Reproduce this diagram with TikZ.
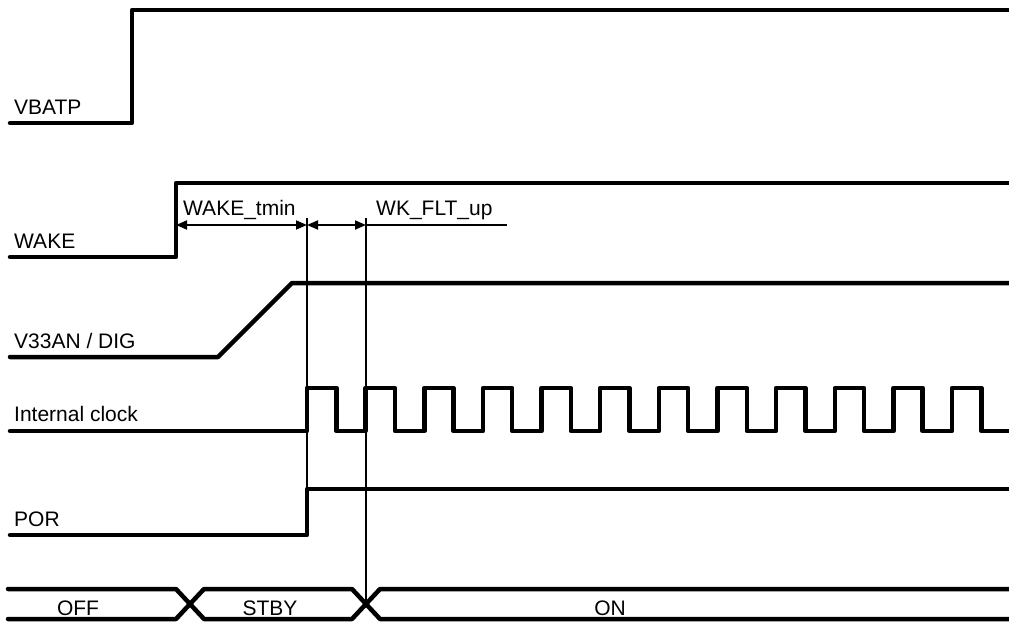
\documentclass[tikz,border=0pt]{standalone}
\usepackage{fontspec}
\setmainfont{Liberation Sans}
\usetikzlibrary{arrows.meta}
\begin{document}
\begin{tikzpicture}[x=1pt,y=-1pt,
  sig/.style={line width=4.5pt,line cap=round,line join=round},
  thin/.style={line width=1.3pt},
  dim/.style={line width=1.8pt,{Triangle[length=11pt,width=9pt]}-{Triangle[length=11pt,width=9pt]}},
  lbl/.style={inner sep=0pt,anchor=base west,font=\fontsize{21}{25}\selectfont},
  blbl/.style={inner sep=0pt,anchor=base,font=\fontsize{21}{25}\selectfont}]
\useasboundingbox (0,0) rectangle (1009,623);
% labels
\node[lbl] (lvb) at (14,115) {VBATP};
\node[lbl] (lwk) at (14,248) {WAKE};
\node[lbl] (lv33) at (14,348) {V33AN / DIG};
\node[lbl] (lclk) at (14,421) {Internal clock};
\node[lbl] (lpor) at (14,526) {POR};
% VBATP
\draw[sig] (10,123) -- (132,123) -- (132,10) -- (1012,10);
% WAKE
\draw[sig] (10,257) -- (176,257) -- (176,183) -- (1012,183);
% V33AN
\draw[sig] (10,357) -- (218,357) -- (292,283) -- (1012,283);
% clock
\draw[sig] (10,431) foreach \i in {0,...,11} {
  -- ({307+58.64*\i},431) -- ({307+58.64*\i},388) -- ({336.3+58.64*\i},388) -- ({336.3+58.64*\i},431)}
  -- (1012,431);
% POR
\draw[sig] (10,535) -- (307,535) -- (307,489) -- (1012,489);
% thin markers
\coordinate (m1t) at (307,218);
\coordinate (m1b) at (307,489);
\coordinate (m2t) at (366,218);
\coordinate (m2b) at (366,604);
\draw[thin] (m1t) -- (m1b);
\draw[thin] (m2t) -- (m2b);
% dimension arrows
\coordinate (d0) at (176,225);
\coordinate (d1) at (307,225);
\coordinate (d2) at (366,225);
\coordinate (d3) at (507,225);
\draw[dim] (d0) -- (d1);
\draw[dim] (d1) -- (d2);
\draw[line width=1.8pt] (d2) -- (d3);
\node[lbl] (twk) at (183,215) {WAKE\_tmin};
\node[lbl] (tflt) at (376,215) {WK\_FLT\_up};
% bus
\draw[sig] (8,589) -- (176,589) -- (204,619) -- (352,619) -- (380,589) -- (1012,589);
\draw[sig] (8,619) -- (176,619) -- (204,589) -- (352,589) -- (380,619) -- (1012,619);
\node[blbl] (soff) at (78,615) {OFF};
\node[blbl] (sstby) at (270,615) {STBY};
\node[blbl] (son) at (610,615) {ON};
\end{tikzpicture}
\end{document}
